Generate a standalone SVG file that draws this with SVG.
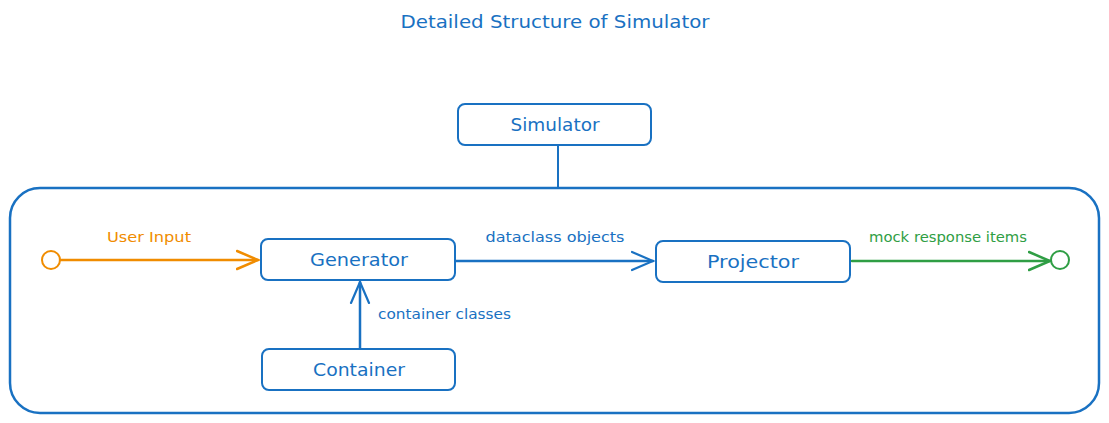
<svg xmlns="http://www.w3.org/2000/svg" width="1109" height="423" viewBox="0 0 1109 423">
<defs>
<style>
.box{fill:#fff;stroke:#1971c2;stroke-width:2}
.lbl{font-family:"DejaVu Sans","Liberation Sans",sans-serif;fill:#1971c2;font-size:17px;text-anchor:middle;dominant-baseline:central}
.el{font-family:"DejaVu Sans","Liberation Sans",sans-serif;font-size:14px;text-anchor:middle}
.line{fill:none;stroke-width:2.5;stroke-linecap:round}
</style>
<marker id="ab" viewBox="0 0 24 24" refX="22" refY="12" markerWidth="24" markerHeight="24" markerUnits="userSpaceOnUse" orient="auto"><path d="M1,3 L22,12 L1,21" fill="none" stroke="#1971c2" stroke-width="2.2" stroke-linecap="round"/></marker>
<marker id="ao" viewBox="0 0 24 24" refX="22" refY="12" markerWidth="24" markerHeight="24" markerUnits="userSpaceOnUse" orient="auto"><path d="M1,3 L22,12 L1,21" fill="none" stroke="#f08c00" stroke-width="2.5" stroke-linecap="round"/></marker>
<marker id="ag" viewBox="0 0 24 24" refX="22" refY="12" markerWidth="24" markerHeight="24" markerUnits="userSpaceOnUse" orient="auto"><path d="M1,3 L22,12 L1,21" fill="none" stroke="#2f9e44" stroke-width="2.5" stroke-linecap="round"/></marker>
</defs>
<rect width="1109" height="423" fill="#fff"/>
<text x="555" y="21" class="lbl" style="font-size:18px" textLength="309" lengthAdjust="spacingAndGlyphs">Detailed Structure of Simulator</text>
<g id="system">
<rect x="10" y="188" width="1089" height="225" rx="30" class="box" style="fill:none;stroke-width:2.5"/>
</g>
<g id="connectors">
<line x1="558" y1="146" x2="558" y2="188" class="line" style="stroke:#1971c2;stroke-width:2"/>
<line x1="60" y1="260" x2="258" y2="260" class="line" stroke="#f08c00" stroke-width="3" marker-end="url(#ao)"/>
<circle cx="51" cy="260" r="9" fill="none" stroke="#f08c00" stroke-width="2"/>
<text x="149" y="242" class="el" fill="#f08c00" textLength="84" lengthAdjust="spacingAndGlyphs">User Input</text>
<line x1="456" y1="261" x2="653" y2="261" class="line" stroke="#1971c2" marker-end="url(#ab)"/>
<text x="555" y="242" class="el" fill="#1971c2" textLength="139" lengthAdjust="spacingAndGlyphs">dataclass objects</text>
<line x1="360" y1="348" x2="360" y2="282" class="line" stroke="#1971c2" stroke-width="3" marker-end="url(#ab)"/>
<text x="378" y="319" class="el" fill="#1971c2" style="text-anchor:start" textLength="133" lengthAdjust="spacingAndGlyphs">container classes</text>
<line x1="852" y1="261" x2="1050" y2="261" class="line" stroke="#2f9e44" stroke-width="3.5" marker-end="url(#ag)"/>
<circle cx="1060" cy="260" r="9" fill="none" stroke="#2f9e44" stroke-width="2"/>
<text x="948" y="242" class="el" fill="#2f9e44" textLength="158" lengthAdjust="spacingAndGlyphs">mock response items</text>
</g>
<g id="simulator">
<rect x="458" y="104" width="193" height="41" rx="7" class="box"/>
<text x="555" y="125" class="lbl" textLength="89" lengthAdjust="spacingAndGlyphs">Simulator</text>
</g>
<g id="generator">
<rect x="261" y="239" width="194" height="41" rx="7" class="box"/>
<text x="359" y="260" class="lbl" textLength="98" lengthAdjust="spacingAndGlyphs">Generator</text>
</g>
<g id="projector">
<rect x="656" y="241" width="194" height="41" rx="7" class="box"/>
<text x="753" y="262" class="lbl" textLength="92" lengthAdjust="spacingAndGlyphs">Projector</text>
</g>
<g id="container">
<rect x="262" y="349" width="193" height="41" rx="7" class="box"/>
<text x="359" y="370" class="lbl" textLength="92" lengthAdjust="spacingAndGlyphs">Container</text>
</g>
</svg>
